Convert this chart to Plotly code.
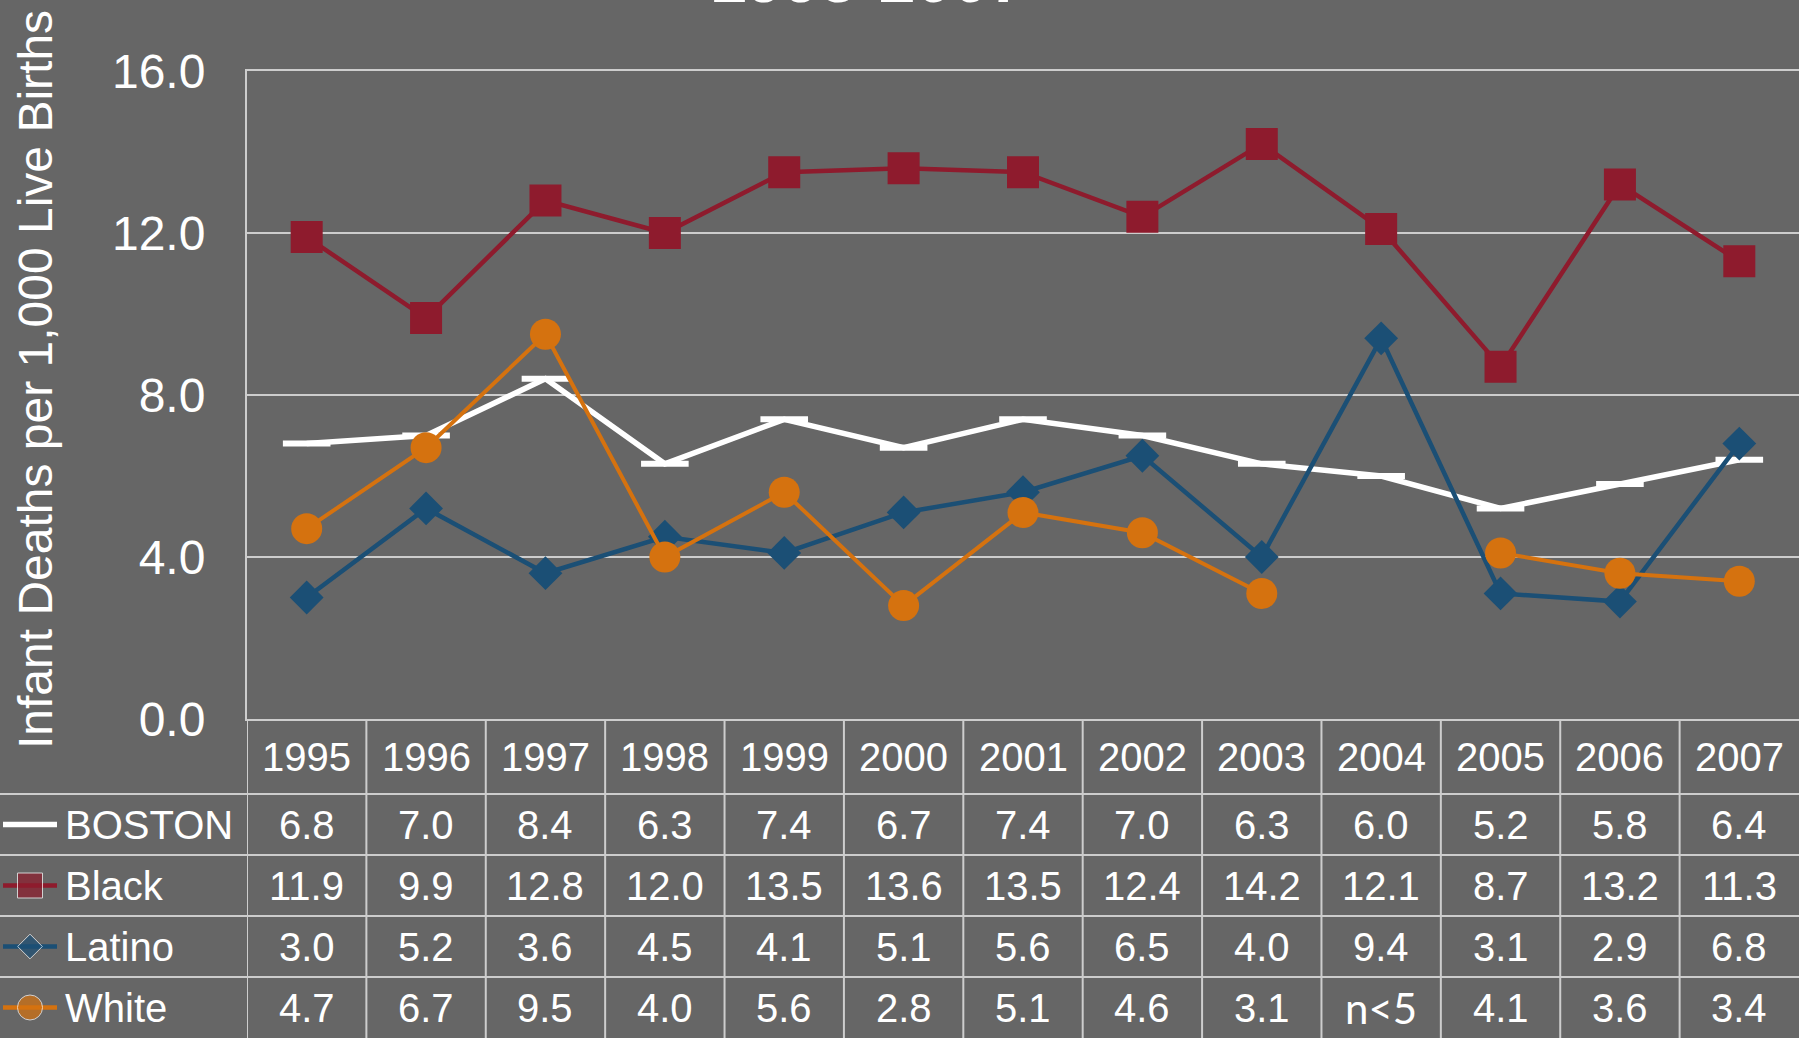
import plotly.graph_objects as go

# ---------------- data ----------------
years = [1995, 1996, 1997, 1998, 1999, 2000, 2001, 2002, 2003, 2004, 2005, 2006, 2007]
boston = [6.8, 7.0, 8.4, 6.3, 7.4, 6.7, 7.4, 7.0, 6.3, 6.0, 5.2, 5.8, 6.4]
black = [11.9, 9.9, 12.8, 12.0, 13.5, 13.6, 13.5, 12.4, 14.2, 12.1, 8.7, 13.2, 11.3]
latino = [3.0, 5.2, 3.6, 4.5, 4.1, 5.1, 5.6, 6.5, 4.0, 9.4, 3.1, 2.9, 6.8]
white = [4.7, 6.7, 9.5, 4.0, 5.6, 2.8, 5.1, 4.6, 3.1, None, 4.1, 3.6, 3.4]
series_names = ["BOSTON", "Black", "Latino", "White"]
missing_label = "n<5"
y_ticks = [0, 4, 8, 12, 16]
y_title = "Infant Deaths per 1,000 Live Births"
title_text = "1995-2007"

# ---------------- styling / layout constants ----------------
W, H = 1799, 1038
BG = "#666666"
GRID = "#cdcdcd"
FONT = "Arial, Liberation Sans, sans-serif"
PLOT_LEFT, PLOT_TOP, PLOT_BOTTOM = 247, 71, 719
ROW_LINES = [794, 855, 916, 977]
HEADER_CENTER = 757
ROW_CENTERS = [824.5, 885.5, 946.5, 1007.5]

colors = {"BOSTON": "#ffffff", "Black": "#8e1b2d", "Latino": "#1b4f75", "White": "#d5720f"}


def py(px):
    return 1 - px / H


fig = go.Figure()

series = {"BOSTON": boston, "Black": black, "Latino": latino, "White": white}
main_style = {
    "BOSTON": dict(line=dict(color="#ffffff", width=5.5),
                   marker=dict(symbol="line-ew", size=34, color="#ffffff",
                               line=dict(width=6, color="#ffffff"))),
    "Black": dict(line=dict(color=colors["Black"], width=4.5),
                  marker=dict(symbol="square", size=32, color=colors["Black"])),
    "Latino": dict(line=dict(color=colors["Latino"], width=4.5),
                   marker=dict(symbol="diamond", size=26, color=colors["Latino"])),
    "White": dict(line=dict(color=colors["White"], width=4),
                  marker=dict(symbol="circle", size=31, color=colors["White"])),
}
for name in series_names:
    fig.add_trace(go.Scatter(x=years, y=series[name], mode="lines+markers", name=name,
                             connectgaps=False, showlegend=False, hoverinfo="skip",
                             **main_style[name]))

# legend keys drawn in the table's left column (pixel overlay axes)
icon_style = {
    "BOSTON": dict(symbol="line-ew", size=0, color="#ffffff"),
    "Black": dict(symbol="square", size=25, color=colors["Black"]),
    "Latino": dict(symbol="diamond", size=19, color=colors["Latino"]),
    "White": dict(symbol="circle", size=25, color=colors["White"]),
}
icon_lw = {"BOSTON": 5.5, "Black": 4.5, "Latino": 4.5, "White": 4.5}
for name, yc in zip(series_names, ROW_CENTERS):
    st = icon_style[name]
    fig.add_trace(go.Scatter(x=[3, 30, 57], y=[yc, yc, yc], mode="lines+markers",
                             xaxis="x2", yaxis="y2", showlegend=False, hoverinfo="skip",
                             line=dict(color=colors[name], width=icon_lw[name]),
                             marker=dict(symbol=st["symbol"], size=[0, st["size"], 0],
                                         color=st["color"])))

shapes = []
# horizontal table lines (full width)
for yl in ROW_LINES:
    shapes.append(dict(type="line", xref="paper", yref="paper", x0=0, x1=1,
                       y0=py(yl), y1=py(yl), line=dict(color=GRID, width=2)))
# vertical table lines
for i in range(len(years)):
    xb = years[i] - 0.5
    shapes.append(dict(type="line", xref="x", yref="paper", x0=xb, x1=xb,
                       y0=0, y1=py(PLOT_BOTTOM), line=dict(color=GRID, width=2)))

annotations = []
# header years
for yr in years:
    annotations.append(dict(x=yr, y=py(HEADER_CENTER), xref="x", yref="paper", text=str(yr),
                            showarrow=False, xanchor="center", yanchor="middle",
                            font=dict(family=FONT, size=40, color="white")))
# row labels + values
for name, yc in zip(series_names, ROW_CENTERS):
    annotations.append(dict(x=63 / W, y=py(yc), xref="paper", yref="paper", text=name,
                            showarrow=False, xanchor="left", yanchor="middle",
                            font=dict(family=FONT, size=40, color="white")))
    for yr, v in zip(years, series[name]):
        if v is None:
            annotations.append(dict(x=yr, y=py(yc), xref="x", yref="paper", text=missing_label,
                                    showarrow=False, xanchor="center", yanchor="middle",
                                    font=dict(family="Lato, sans-serif", size=42, color="white")))
        else:
            annotations.append(dict(x=yr, y=py(yc), xref="x", yref="paper", text=f"{v:.1f}",
                                    showarrow=False, xanchor="center", yanchor="middle",
                                    font=dict(family=FONT, size=40, color="white")))
# y-axis title
annotations.append(dict(x=35 / W, y=py(380), xref="paper", yref="paper", text=y_title,
                        textangle=-90, showarrow=False, xanchor="center", yanchor="middle",
                        font=dict(family=FONT, size=48, color="white")))
# (cropped) chart title
annotations.append(dict(x=868 / W, y=py(18.5), xref="paper", yref="paper",
                        text=f"<b>{title_text}</b>", showarrow=False,
                        xanchor="center", yanchor="bottom",
                        font=dict(family=FONT, size=66, color="white")))

fig.update_layout(
    width=W, height=H,
    margin=dict(l=0, r=0, t=0, b=0, pad=0, autoexpand=False),
    paper_bgcolor=BG, plot_bgcolor="rgba(0,0,0,0)",
    showlegend=False,
    xaxis=dict(domain=[PLOT_LEFT / W, 1], range=[years[0] - 0.5, years[-1] + 0.5],
               showgrid=False, zeroline=False, showline=True, mirror=True,
               linecolor=GRID, linewidth=2, showticklabels=False,
               ticks="", automargin=False),
    yaxis=dict(domain=[py(PLOT_BOTTOM), py(PLOT_TOP)], range=[0, 16], tickvals=y_ticks,
               tickformat=".1f", showgrid=True, gridcolor=GRID, gridwidth=2,
               zeroline=True, zerolinecolor=GRID, zerolinewidth=2,
               showline=True, linecolor=GRID, linewidth=2, ticks="",
               ticklabelstandoff=30, automargin=False,
               tickfont=dict(family=FONT, size=48, color="white")),
    xaxis2=dict(domain=[0, 1], range=[0, W], visible=False, anchor="y2", automargin=False),
    yaxis2=dict(domain=[0, 1], range=[H, 0], visible=False, anchor="x2", automargin=False),
    shapes=shapes,
    annotations=annotations,
)

fig.write_html(
    "out.html",
    config={"displayModeBar": False},
    post_script="document.body.style.margin='0';document.body.style.overflow='hidden';"
                "document.body.style.background='#666666';",
)
